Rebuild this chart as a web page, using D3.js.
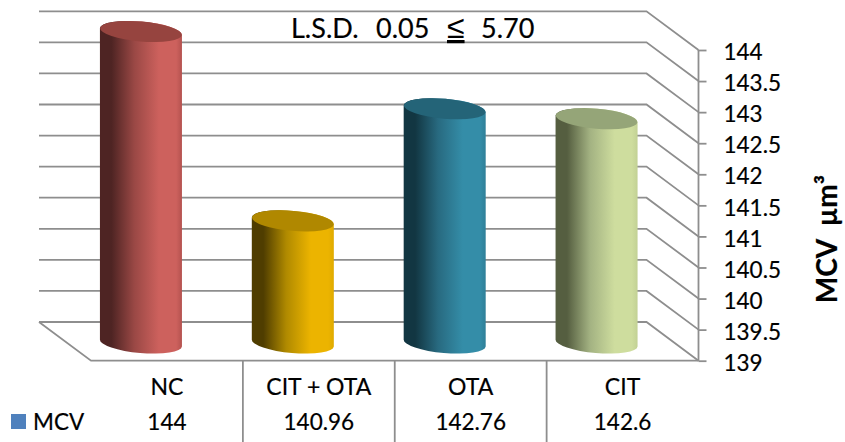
<!DOCTYPE html>
<html>
<head>
<meta charset="utf-8">
<script src="https://cdnjs.cloudflare.com/ajax/libs/d3/7.8.5/d3.min.js"></script>
<style>
  html, body { margin: 0; padding: 0; background: #fff; }
  svg { display: block; }
  text { font-family: Lato, "Open Sans", sans-serif; fill: #000; stroke: #000; stroke-width: 0.2px; }
</style>
</head>
<body>
<svg id="chart" width="845" height="442"></svg>
<script>
// Mean corpuscular volume per treatment group
const categories = ["NC", "CIT + OTA", "OTA", "CIT"];
const mcvValues = [144, 140.96, 142.76, 142.6];
const tickValues = [139, 139.5, 140, 140.5, 141, 141.5, 142, 142.5, 143, 143.5, 144];
const seriesName = "MCV";
const axisTitle = "MCV  µm³";

// Cylinder shading: dark edge, mid tone, highlight, right edge, top cap
const shades = [
  ["#4e2423", "#9a4845", "#cd615d", "#b4524f", "#96443f"],
  ["#4f3d00", "#b08a00", "#ecb400", "#dfaa00", "#b08800"],
  ["#123642", "#286a80", "#348da8", "#2f7f98", "#246478"],
  ["#555e40", "#a3b282", "#cedd9e", "#c2d194", "#95a578"]
];

const gridColor = "#8e8e8e";
const svg = d3.select("#chart");

// Box projection: the back wall sits up and to the left of the front plane
const depthX = 52, depthY = 38.7;
const front = { left: 91, right: 698.5, top: 50, bottom: 360.7 };

const x = d3.scaleBand().domain(categories).range([front.left, front.right]);
const y = d3.scaleLinear().domain([139, 144]).range([front.bottom, front.top]);
// Cylinders stand midway through the floor's depth
const yBar = d3.scaleLinear().domain([139, 144]).range([343, 31.5]);

// Gridlines along the back wall, then down the right wall to the axis
const grid = svg.append("g").attr("fill", "none")
  .attr("stroke", gridColor).attr("stroke-width", 1.8);
grid.selectAll("path").data(tickValues).join("path")
  .attr("d", d => {
    const py = y(d);
    return d3.line()([
      [front.left - depthX, py - depthY],
      [front.right - depthX, py - depthY],
      [front.right, py]
    ]);
  });

// Floor outline
grid.append("path").attr("d", d3.line()([
  [front.left - depthX, y(139) - depthY],
  [front.left, y(139)],
  [front.right, y(139)]
]));

// Value axis on the right
const axis = svg.append("g")
  .attr("transform", `translate(${front.right},0)`)
  .call(d3.axisRight(y).tickValues(tickValues).tickSize(8).tickPadding(17).tickFormat(d3.format("~g")));
axis.selectAll("path,line").attr("stroke", gridColor).attr("stroke-width", 1.8);
axis.select(".domain").attr("d", `M0,${front.top}V${front.bottom}`);
axis.selectAll("text").attr("font-size", 22.5).attr("dy", "0.43em")
  .style("font-family", "Lato, sans-serif");

// Gradients for the cylinder walls
const defs = svg.append("defs");
shades.forEach((s, i) => {
  const g = defs.append("linearGradient").attr("id", "wall" + i);
  [[0, s[0]], [0.14, s[0]], [0.42, s[1]], [0.72, s[2]], [0.93, s[2]], [1, s[3]]].forEach(([o, c]) =>
    g.append("stop").attr("offset", o).attr("stop-color", c));
});

// Tilted cylinders
const tilt = 4.9;
const tan = Math.tan(tilt * Math.PI / 180);
const barWidth = x.bandwidth() * 0.54;
const rx = barWidth / 2, ry = 10;
const bars = svg.append("g").selectAll("g").data(categories).join("g");
bars.each(function (c, i) {
  const cx = x(c) + x.bandwidth() / 2 - depthX / 2;
  const top = yBar(mcvValues[i]), base = yBar(139);
  const dy = rx * tan;
  const g = d3.select(this);
  g.append("path")
    .attr("fill", `url(#wall${i})`)
    .attr("d", `M${cx - rx},${top - dy}L${cx - rx},${base - dy}` +
      `A${rx},${ry} ${tilt} 0 0 ${cx + rx},${base + dy}L${cx + rx},${top + dy}` +
      `A${rx},${ry} ${tilt} 0 0 ${cx - rx},${top - dy}Z`);
  g.append("ellipse")
    .attr("cx", cx).attr("cy", top).attr("rx", rx).attr("ry", ry)
    .attr("transform", `rotate(${tilt} ${cx} ${top})`)
    .attr("fill", shades[i][4]);
});

// Data table under the floor
const table = svg.append("g");
table.selectAll("line").data(categories.slice(1)).join("line")
  .attr("x1", d => x(d)).attr("x2", d => x(d))
  .attr("y1", y(139)).attr("y2", 442)
  .attr("stroke", gridColor).attr("stroke-width", 1.8);
table.selectAll("text.cat").data(categories).join("text")
  .attr("class", "cat")
  .attr("x", d => x(d) + x.bandwidth() / 2).attr("y", 395)
  .attr("text-anchor", "middle").attr("font-size", 23)
  .text(d => d);
table.selectAll("text.val").data(categories).join("text")
  .attr("class", "val")
  .attr("x", d => x(d) + x.bandwidth() / 2).attr("y", 430)
  .attr("text-anchor", "middle").attr("font-size", 22.5)
  .text((d, i) => mcvValues[i]);

// Legend key
table.append("rect").attr("x", 11).attr("y", 414).attr("width", 15).attr("height", 15).attr("fill", "#4f81bd");
table.append("text").attr("x", 33).attr("y", 430).attr("font-size", 22.5).text(seriesName);

// Significance note
const note = svg.append("text").attr("y", 38).attr("font-size", 27);
note.append("tspan").attr("x", 291).text("L.S.D.");
note.append("tspan").attr("x", 376).text("0.05");
note.append("tspan").attr("x", 447).attr("text-decoration", "underline")
  .style("font-family", "Liberation Sans").style("stroke-width", 0).attr("font-size", 32).text("≤");
note.append("tspan").attr("x", 481).text("5.70");

// Axis title
svg.append("text")
  .attr("transform", "translate(837,239) rotate(-90)")
  .attr("text-anchor", "middle").attr("font-size", 28).attr("font-weight", 700)
  .style("white-space", "pre")
  .text(axisTitle);
</script>
</body>
</html>
